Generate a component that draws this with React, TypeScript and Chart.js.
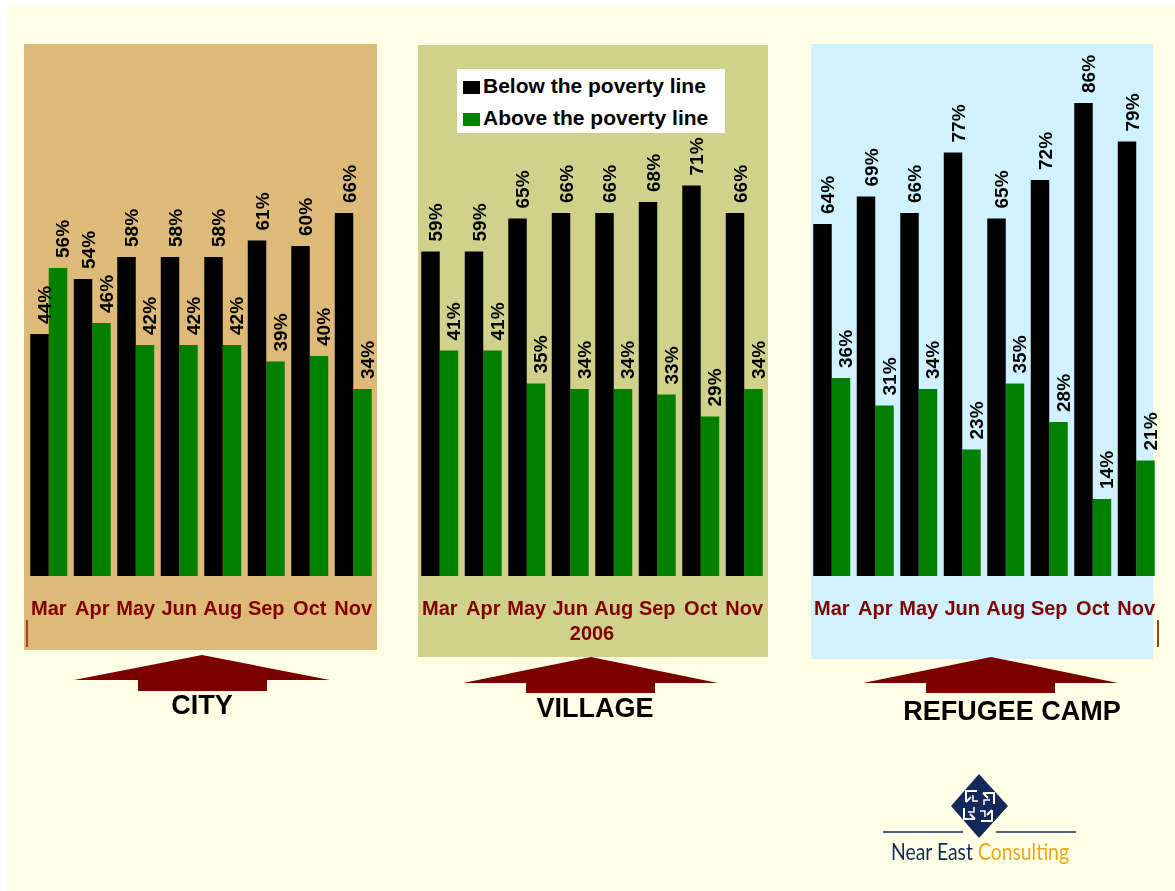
import React, { useEffect, useRef } from "react";
import { Chart, registerables } from "chart.js";

Chart.register(...registerables);

// ---------- data ----------
const months = ["Mar", "Apr", "May", "Jun", "Aug", "Sep", "Oct", "Nov"];
const seriesNames = ["Below the poverty line", "Above the poverty line"];
const cityBelow = [44, 54, 58, 58, 58, 61, 60, 66];
const cityAbove = [56, 46, 42, 42, 42, 39, 40, 34];
const villageBelow = [59, 59, 65, 66, 66, 68, 71, 66];
const villageAbove = [41, 41, 35, 34, 34, 33, 29, 34];
const campBelow = [64, 69, 66, 77, 65, 72, 86, 79];
const campAbove = [36, 31, 34, 23, 35, 28, 14, 21];
const yearTitle = "2006";
const regionNames = ["CITY", "VILLAGE", "REFUGEE CAMP"];

const FONT = "'Liberation Sans', Arial, Helvetica, sans-serif";
const BLACK = "#000000";
const GREEN = "#008000";
const DARKRED = "#800000";

const valueLabels = {
  id: "valueLabels",
  afterDatasetsDraw(chart: any) {
    const ctx = chart.ctx;
    ctx.save();
    ctx.font = `bold 19px ${FONT}`;
    ctx.fillStyle = "#000";
    ctx.textAlign = "left";
    ctx.textBaseline = "alphabetic";
    chart.data.datasets.forEach((ds: any, di: number) => {
      const meta = chart.getDatasetMeta(di);
      meta.data.forEach((bar: any, i: number) => {
        const v = ds.data[i];
        ctx.save();
        ctx.translate(bar.x + 11.5, bar.y - 10);
        ctx.rotate(-Math.PI / 2);
        ctx.fillText(v + "%", 0, 0);
        ctx.restore();
      });
    });
    ctx.restore();
  },
};

type PanelProps = {
  below: number[];
  above: number[];
  title?: string;
  left: number;
};

function BarPanel({ below, above, title, left }: PanelProps) {
  const ref = useRef<HTMLCanvasElement | null>(null);
  useEffect(() => {
    if (!ref.current) return;
    const chart = new Chart(ref.current, {
      type: "bar",
      data: {
        labels: months,
        datasets: [
          {
            label: seriesNames[0],
            data: below,
            backgroundColor: BLACK,
            categoryPercentage: 0.85,
            barPercentage: 1,
          },
          {
            label: seriesNames[1],
            data: above,
            backgroundColor: GREEN,
            categoryPercentage: 0.85,
            barPercentage: 1,
          },
        ],
      },
      options: {
        animation: false,
        responsive: false,
        maintainAspectRatio: false,
        layout: { padding: 0 },
        plugins: {
          legend: { display: false },
          tooltip: { enabled: false },
        },
        scales: {
          x: {
            grid: { display: false, drawTicks: false },
            border: { display: false },
            ticks: {
              color: DARKRED,
              font: { family: FONT, size: 20, weight: "bold" },
              padding: 21,
              maxRotation: 0,
              autoSkip: false,
            },
            title: {
              display: !!title,
              text: title || "",
              color: DARKRED,
              font: { family: FONT, size: 20, weight: "bold" },
              padding: { top: 0, bottom: 10 },
            },
            afterFit: (s: any) => {
              s.height = 80;
              s.paddingLeft = 0;
              s.paddingRight = 0;
            },
          },
          y: { display: false, min: 0, max: 100 },
        },
      } as any,
      plugins: [valueLabels],
    });
    return () => chart.destroy();
  }, [below, above, title]);
  return (
    <canvas
      ref={ref}
      width={348}
      height={630}
      style={{ position: "absolute", left, top: 26, width: 348, height: 630 }}
    />
  );
}

function Arrow({ tipX, tipY, wingL, wingR, wingY, rectL, rectR, rectB }: any) {
  const pts = [
    [tipX, tipY],
    [wingR, wingY],
    [rectR, wingY],
    [rectR, rectB],
    [rectL, rectB],
    [rectL, wingY],
    [wingL, wingY],
  ]
    .map((p) => p.join(","))
    .join(" ");
  return <polygon points={pts} fill="#7d0000" />;
}

export default function App() {
  useEffect(() => {
    document.body.style.overflow = "hidden";
  }, []);
  const titleStyle = (cx: number, cy: number): React.CSSProperties => ({
    position: "absolute",
    left: cx - 200,
    width: 400,
    top: cy - 16,
    height: 32,
    lineHeight: "32px",
    textAlign: "center",
    font: `bold 27px ${FONT}`,
    color: "#000",
  });
  return (
    <div
      style={{
        position: "absolute",
        left: 0,
        top: 0,
        width: 1175,
        height: 891,
        background: "#ffffff",
        overflow: "hidden",
      }}
    >
      <div
        style={{
          position: "absolute",
          left: 7,
          top: 6,
          right: 0,
          bottom: 0,
          background: "#ffffe6",
        }}
      />
      {/* panels */}
      <div style={{ position: "absolute", left: 24, top: 44, width: 353, height: 606, background: "#ddba78" }} />
      <div style={{ position: "absolute", left: 418, top: 45, width: 350, height: 612, background: "#d0d28c" }} />
      <div style={{ position: "absolute", left: 811, top: 44, width: 342, height: 615, background: "#d0f2ff" }} />

      {/* small axis remnants */}
      <div style={{ position: "absolute", left: 26, top: 620, width: 2, height: 27, background: "#a0402a" }} />
      <div style={{ position: "absolute", left: 1157, top: 620, width: 2, height: 27, background: "#a0402a" }} />

      <BarPanel below={cityBelow} above={cityAbove} left={27} />
      <BarPanel below={villageBelow} above={villageAbove} left={418} title={yearTitle} />
      <BarPanel below={campBelow} above={campAbove} left={810} />

      {/* legend */}
      <div
        style={{
          position: "absolute",
          left: 457,
          top: 69,
          width: 268,
          height: 64,
          background: "#ffffff",
        }}
      >
        {seriesNames.map((n, i) => (
          <div
            key={n}
            style={{
              position: "absolute",
              left: 6,
              top: 5 + i * 32,
              height: 26,
              lineHeight: "26px",
              font: `bold 21px ${FONT}`,
              color: "#000",
              whiteSpace: "nowrap",
            }}
          >
            <span
              style={{
                display: "inline-block",
                width: 17,
                height: 13,
                background: i === 0 ? BLACK : GREEN,
                marginRight: 3,
                verticalAlign: "-1px",
              }}
            />
            {n}
          </div>
        ))}
      </div>

      {/* arrows + logo */}
      <svg width={1175} height={891} style={{ position: "absolute", left: 0, top: 0 }}>
        <Arrow tipX={202} tipY={655} wingL={74} wingR={330} wingY={680} rectL={138} rectR={267} rectB={691} />
        <Arrow tipX={591} tipY={657} wingL={463} wingR={718} wingY={683} rectL={526} rectR={655} rectB={693} />
        <Arrow tipX={991} tipY={657} wingL={863} wingR={1118} wingY={683} rectL={926} rectR={1055} rectB={693} />

        <polygon points="979,774 1008,806 979,838 951,806" fill="#15285a" />
        <g transform="translate(979,806)" stroke="#ffffff" strokeWidth={2} fill="none">
          {[0, 90, 180, 270].map((r) => (
            <g key={r} transform={`rotate(${r})`}>
              <polyline points="-2,-15 -13,-15 -13,-4" />
              <polyline points="-13,-4 -8,-9" />
              <polyline points="-6,-11 -6,-5 -1,-5" strokeWidth={1.5} />
            </g>
          ))}
        </g>
        <line x1={883} y1={832} x2={963} y2={832} stroke="#15285a" strokeWidth={1.5} />
        <line x1={996} y1={832} x2={1076} y2={832} stroke="#15285a" strokeWidth={1.5} />
        <text
          x={891}
          y={860}
          textLength={178}
          lengthAdjust="spacingAndGlyphs"
          style={{ font: "24px Lato, 'Open Sans', sans-serif" }}
        >
          <tspan fill="#15285a">Near East </tspan>
          <tspan fill="#e8a818">Consulting</tspan>
        </text>
      </svg>

      <div style={titleStyle(202, 706)}>{regionNames[0]}</div>
      <div style={titleStyle(595, 709)}>{regionNames[1]}</div>
      <div style={titleStyle(1012, 712)}>{regionNames[2]}</div>
    </div>
  );
}
